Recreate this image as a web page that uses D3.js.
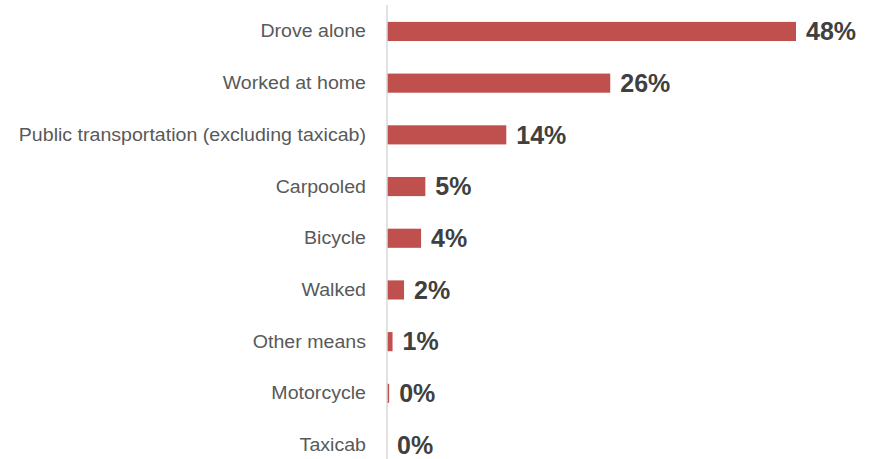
<!DOCTYPE html>
<html>
<head>
<meta charset="utf-8">
<script src="https://cdn.jsdelivr.net/npm/d3@7"></script>
<style>
  body { margin: 0; background: #fff; }
  svg { display: block; }
</style>
</head>
<body>
<div id="container"></div>
<script>
var width = 872,
    height = 459;

// commute mode shares (percent)
var modes = ["Drove alone", "Worked at home", "Public transportation (excluding taxicab)",
    "Carpooled", "Bicycle", "Walked", "Other means", "Motorcycle", "Taxicab"];
var shares = [48.0, 26.2, 14.0, 4.5, 4.0, 2.0, 0.65, 0.25, 0.0];
var shareLabels = ["48%", "26%", "14%", "5%", "4%", "2%", "1%", "0%", "0%"];

var rows = modes.map(function (m, i) {
    return { mode: m, share: shares[i], label: shareLabels[i] };
});

var svg = d3.select("#container")
    .append("svg")
    .attr("width", width)
    .attr("height", height);

var x0 = 387;

var x = d3.scaleLinear()
    .domain([0, 48])
    .range([x0, 796]);

var y = d3.scaleBand()
    .domain(modes)
    .range([5.6, 5.6 + 51.7 * modes.length])
    .paddingInner(0.63)
    .paddingOuter(0.315);

var barsG = svg.append("g"),
    axisG = svg.append("g");

barsG.selectAll("rect")
    .data(rows)
    .enter().append("rect")
    .attr("x", x0)
    .attr("y", function (d) { return y(d.mode); })
    .attr("width", function (d) { return x(d.share) - x0; })
    .attr("height", y.bandwidth())
    .attr("fill", "#c0504d");

// value labels
barsG.selectAll("text")
    .data(rows)
    .enter().append("text")
    .attr("x", function (d) { return x(d.share) + 10; })
    .attr("y", function (d) { return y(d.mode) + y.bandwidth() / 2; })
    .attr("dy", "0.35em")
    .attr("font-family", "'Liberation Sans', Arial, sans-serif")
    .attr("font-weight", "bold")
    .attr("font-size", "25px")
    .attr("fill", "#404040")
    .text(function (d) { return d.label; });

// category axis (labels are a bit stretched horizontally in the original)
var stretch = 1.12;
var yAxis = d3.axisLeft(y).tickSize(0).tickPadding(0);
axisG.attr("transform", "translate(" + x0 + ",0)")
    .call(yAxis);

axisG.select(".domain")
    .attr("d", "M0,5V" + height)
    .attr("stroke", "#d9d9d9")
    .attr("stroke-width", 1.5);

axisG.selectAll(".tick text")
    .attr("x", -21 / stretch)
    .attr("dy", "0.34em")
    .attr("transform", "scale(" + stretch + ",1)")
    .attr("font-family", "'Liberation Sans', Arial, sans-serif")
    .attr("font-size", "17.5px")
    .attr("fill", "#595959");
</script>
</body>
</html>
